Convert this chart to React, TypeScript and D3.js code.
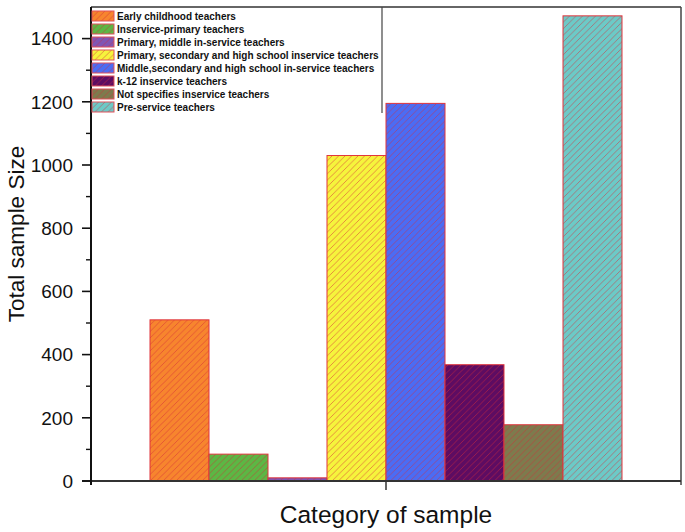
import * as d3 from "d3";
import * as React from "react";

const categories = [""];
const seriesNames = [
  "Early childhood teachers",
  "Inservice-primary teachers",
  "Primary, middle in-service teachers",
  "Primary, secondary and high school inservice teachers",
  "Middle,secondary and high school in-service teachers",
  "k-12 inservice teachers",
  "Not specifies inservice teachers",
  "Pre-service teachers",
];
const seriesValues = [510, 85, 10, 1030, 1195, 368, 178, 1472];
const seriesColors = [
  "#f7852e",
  "#5cb744",
  "#7f56b4",
  "#f6f43c",
  "#4b6cf4",
  "#5d0c62",
  "#7d7b4d",
  "#6ccac7",
];
const yTicks = [0, 200, 400, 600, 800, 1000, 1200, 1400];

const W = 685;
const H = 532;
const margin = { top: 7, right: 4, bottom: 51, left: 91 };

export default function App() {
  const x0 = d3
    .scaleBand()
    .domain(categories)
    .range([margin.left, W - margin.right])
    .paddingOuter(0.125)
    .paddingInner(0);
  const x1 = d3
    .scaleBand()
    .domain(seriesNames)
    .range([0, x0.bandwidth()])
    .padding(0);
  const y = d3
    .scaleLinear()
    .domain([0, 1500])
    .range([H - margin.bottom, margin.top]);

  const minor = d3.range(100, 1500, 200);
  const xLeft = margin.left;
  const xRight = W - margin.right;
  const yBottom = y(0);
  const font = "'Liberation Sans', Arial, sans-serif";
  const p = 6.5; // hatch period

  return (
    <svg width={W} height={H} style={{ position: "absolute", left: 0, top: 0 }}>
      <defs>
        {seriesColors.map((c, i) => (
          <pattern
            key={"p" + i}
            id={"hatch" + i}
            patternUnits="userSpaceOnUse"
            width={p}
            height={p}
          >
            <rect width={p} height={p} fill={c} />
            <path
              d={`M-1,1 L1,-1 M0,${p} L${p},0 M${p - 1},${p + 1} L${p + 1},${p - 1}`}
              stroke="#d42a3a"
              strokeOpacity={0.72}
              strokeWidth={0.7}
            />
          </pattern>
        ))}
      </defs>
      <rect width={W} height={H} fill="#fff" />

      {/* bars */}
      {categories.map((cat) => (
        <g key={cat} transform={`translate(${x0(cat)},0)`}>
          {seriesNames.map((s, i) => (
            <rect
              key={s}
              x={x1(s)}
              y={y(seriesValues[i])}
              width={x1.bandwidth()}
              height={yBottom - y(seriesValues[i])}
              fill={`url(#hatch${i})`}
              stroke="#e0343c"
              strokeWidth={1}
            />
          ))}
        </g>
      ))}

      {/* frame */}
      <line x1={xLeft} x2={xRight} y1={margin.top} y2={margin.top} stroke="#333" strokeWidth={1.5} />
      <line x1={xRight} x2={xRight} y1={margin.top} y2={yBottom + 4} stroke="#444" strokeWidth={1.5} />
      <line x1={xLeft - 9} x2={xRight} y1={yBottom} y2={yBottom} stroke="#333" strokeWidth={1.8} />
      <line x1={xLeft} x2={xLeft} y1={margin.top} y2={yBottom + 4} stroke="#111" strokeWidth={2} />

      {/* y ticks */}
      {yTicks.map((t) => (
        <g key={t}>
          <line x1={xLeft - 9} x2={xLeft} y1={y(t)} y2={y(t)} stroke="#111" strokeWidth={1.6} />
          <text
            x={xLeft - 18}
            y={y(t)}
            dy="0.36em"
            textAnchor="end"
            fontFamily={font}
            fontSize={19}
            fill="#111"
          >
            {t}
          </text>
        </g>
      ))}
      {minor.map((t) => (
        <line key={t} x1={xLeft - 5} x2={xLeft} y1={y(t)} y2={y(t)} stroke="#111" strokeWidth={1.4} />
      ))}

      {/* x tick */}
      {categories.map((cat) => (
        <line
          key={cat}
          x1={(x0(cat) as number) + x0.bandwidth() / 2}
          x2={(x0(cat) as number) + x0.bandwidth() / 2}
          y1={yBottom}
          y2={yBottom + 9}
          stroke="#333"
          strokeWidth={1.5}
        />
      ))}

      {/* axis titles */}
      <text
        x={(xLeft + xRight) / 2}
        y={523}
        textAnchor="middle"
        fontFamily={font}
        fontSize={24.5}
        fill="#111"
      >
        Category of sample
      </text>
      <text
        transform={`translate(24,234) rotate(-90)`}
        textAnchor="middle"
        fontFamily={font}
        fontSize={22.5}
        fill="#111"
      >
        Total sample Size
      </text>

      {/* legend */}
      <line x1={382} x2={382} y1={margin.top} y2={113} stroke="#444" strokeWidth={1.2} />
      {seriesNames.map((s, i) => (
        <g key={s} transform={`translate(92,${11 + i * 13})`}>
          <rect
            width={22}
            height={10}
            fill={`url(#hatch${i})`}
            stroke="#e0505a"
            strokeWidth={1}
          />
          <text
            x={25}
            y={5}
            dy="0.35em"
            fontFamily={font}
            fontWeight="bold"
            fontSize={10}
            fill="#111"
          >
            {s}
          </text>
        </g>
      ))}
    </svg>
  );
}
